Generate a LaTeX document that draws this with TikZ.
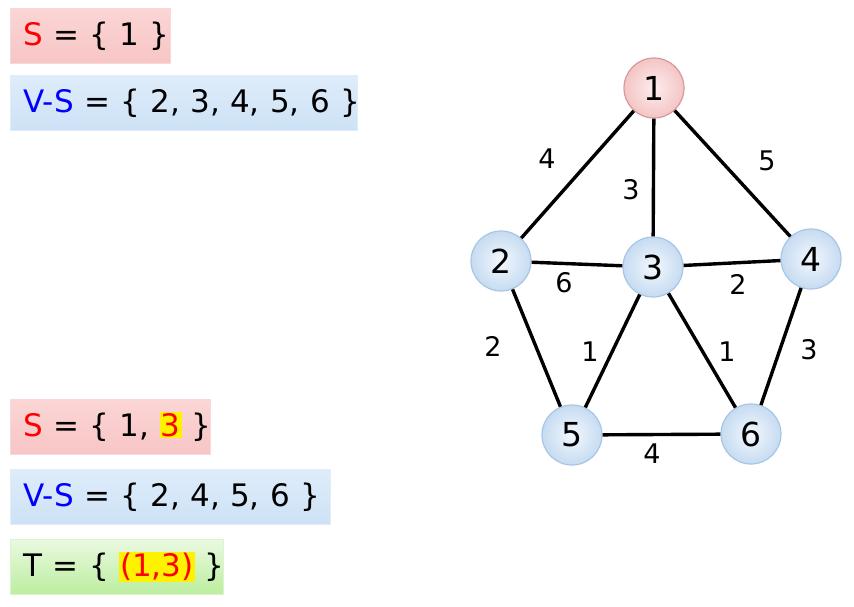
\documentclass[tikz,border=0pt]{standalone}
\usepackage{fontspec}
\setmainfont{DejaVu Sans}
\definecolor{pinkT}{HTML}{FBD5D5}
\definecolor{pinkB}{HTML}{F8C5C5}
\definecolor{pinkD}{HTML}{F4DADA}
\definecolor{blueT}{HTML}{DEECFA}
\definecolor{blueB}{HTML}{CDE2F6}
\definecolor{blueD}{HTML}{E2EDF8}
\definecolor{greenT}{HTML}{EAF9E0}
\definecolor{greenB}{HTML}{BBEE9E}
\definecolor{greenD}{HTML}{DDF3D0}
\definecolor{vin}{HTML}{F3F8FE}
\definecolor{vout}{HTML}{C6DBF1}
\definecolor{vdraw}{HTML}{A7C6E5}
\definecolor{rin}{HTML}{FDEEEE}
\definecolor{rout}{HTML}{F4C4C4}
\definecolor{rdraw}{HTML}{D89999}
\definecolor{setblue}{HTML}{0000FF}
\definecolor{setred}{HTML}{FF0000}
\newcommand\hlmark[1]{{\setlength{\fboxsep}{1pt}\colorbox{yellow}{\textcolor{setred}{#1}}}}
\tikzset{
  setbox/.style={rectangle, anchor=north west, minimum height=55pt, inner xsep=13pt, inner ysep=0pt,
    align=left, font=\fontsize{31}{37}\selectfont},
  pinkbox/.style={setbox, top color=pinkT, bottom color=pinkB, draw=pinkD, line width=1pt},
  bluebox/.style={setbox, top color=blueT, bottom color=blueB, draw=blueD, line width=1pt},
  greenbox/.style={setbox, top color=greenT, bottom color=greenB, draw=greenD, line width=1pt},
  vertex/.style={circle, minimum size=60pt, inner sep=0pt, inner color=vin, outer color=vout,
    draw=vdraw, line width=1.2pt, font=\fontsize{33}{38}\selectfont},
  startvertex/.style={vertex, inner color=rin, outer color=rout, draw=rdraw},
  edge/.style={line width=3.4pt, black},
  wlabel/.style={inner sep=0pt, font=\fontsize{27}{32}\selectfont}
}
\begin{document}
\begin{tikzpicture}[x=1pt,y=-1pt]
\useasboundingbox (0,0) rectangle (854,607);
% set boxes
\node[pinkbox, text width=134pt] (s1) at (10,8) {\mbox{\textcolor{setred}{S} = \{ 1 \}}};
\node[bluebox, text width=321pt] (vs1) at (10,75) {\mbox{\textcolor{setblue}{V-S} = \{ 2, 3, 4, 5, 6 \}}};
\node[pinkbox, text width=174pt] (s2) at (10,399) {\mbox{\textcolor{setred}{S} = \{ 1, \hlmark{3} \}}};
\node[bluebox, text width=294pt] (vs2) at (10,469) {\mbox{\textcolor{setblue}{V-S} = \{ 2, 4, 5, 6 \}}};
\node[greenbox, text width=187pt] (t2) at (10,539) {\mbox{T = \{ \hlmark{(1,3)} \}}};
% vertices
\node[startvertex] (v1) at (654,88) {1};
\node[vertex] (v2) at (501,261) {2};
\node[vertex] (v3) at (653,267) {3};
\node[vertex] (v4) at (811,259) {4};
\node[vertex] (v5) at (572,435) {5};
\node[vertex] (v6) at (751,434) {6};
% edges
\draw[edge] (v1) -- (v2);
\draw[edge] (v1) -- (v3);
\draw[edge] (v1) -- (v4);
\draw[edge] (v2) -- (v3);
\draw[edge] (v3) -- (v4);
\draw[edge] (v2) -- (v5);
\draw[edge] (v3) -- (v5);
\draw[edge] (v3) -- (v6);
\draw[edge] (v4) -- (v6);
\draw[edge] (v5) -- (v6);
% weights
\node[wlabel] (w12) at (547,159) {4};
\node[wlabel] (w13) at (631,190) {3};
\node[wlabel] (w14) at (767,161) {5};
\node[wlabel] (w23) at (564,283) {6};
\node[wlabel] (w34) at (738,284) {2};
\node[wlabel] (w25) at (493,346) {2};
\node[wlabel] (w35) at (590,352) {1};
\node[wlabel] (w36) at (727,352) {1};
\node[wlabel] (w46) at (809,350) {3};
\node[wlabel] (w56) at (652,454) {4};
\end{tikzpicture}
\end{document}
